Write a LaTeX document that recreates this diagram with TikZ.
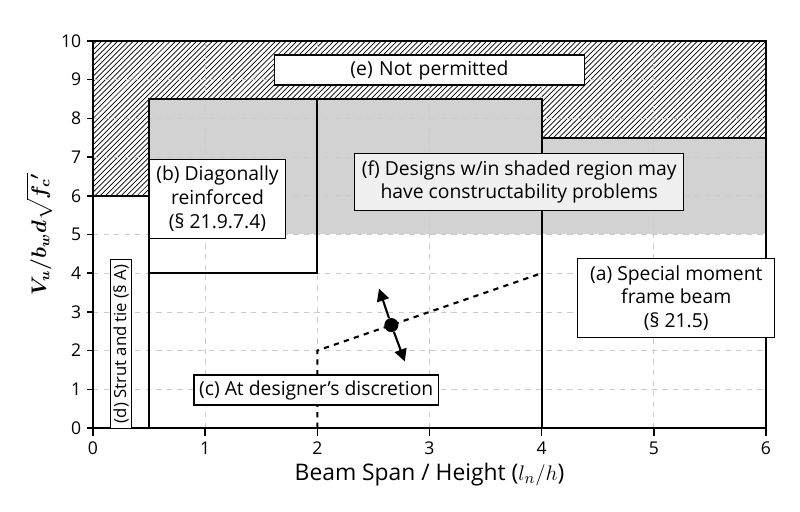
\documentclass[tikz,border=0pt]{standalone}
\usepackage{amsmath,bm}
\usepackage{fontspec}
\setmainfont{Open Sans}
\usetikzlibrary{patterns,arrows.meta}
\begin{document}
\begin{tikzpicture}[x=2.2434cm,y=0.774cm,
  lbl/.style={draw,thick,fill=white,align=center,font=\fontsize{11}{13.5}\selectfont,inner sep=4pt},
  zone/.style={draw,line width=1.2pt}]
\useasboundingbox (-0.8291,-2.1705) rectangle (6.3031,11.0594);

% Shaded and hatched regions
\fill[gray!35] (0.5,5) rectangle (4,8.5);
\fill[gray!35] (4,5) rectangle (6,7.5);
\fill[pattern=north east lines,pattern color=black] (0,6) -- (0.5,6) -- (0.5,8.5) -- (4,8.5) -- (4,7.5) -- (6,7.5) -- (6,10) -- (0,10) -- cycle;
\fill[white] (0,0) rectangle (0.5,6);

% Grid
\foreach \x in {1,...,5} \draw[gray!40,dashed] (\x,0) -- (\x,10);
\foreach \y in {1,...,9} \draw[gray!40,dashed] (0,\y) -- (6,\y);

% Zone borders
\draw[zone] (0,6) -- (0.5,6) -- (0.5,8.5) -- (4,8.5) -- (4,7.5) -- (6,7.5);
\draw[zone] (0,0) rectangle (0.5,6);
\draw[zone] (0.5,4) rectangle (2,8.5);
\draw[zone] (4,0) -- (4,8.5);
\draw[zone] (0,0) rectangle (6,10);

% Axes ticks and labels
\foreach \x in {0,...,6} {
  \draw[thick] (\x,0) -- (\x,-0.2);
  \node[font=\fontsize{10}{12}\selectfont,below] at (\x,-0.2) {\x};
}
\foreach \y in {0,...,10} {
  \draw[thick] (0,\y) -- (-0.05,\y);
  \node[font=\fontsize{10}{12}\selectfont,left] at (-0.05,\y) {\y};
}
\node[font=\fontsize{13}{15}\selectfont] (xlab) at (3,-1.2) {Beam Span / Height ($l_n/h$)};
\node[rotate=90,font=\fontsize{12}{14}\selectfont] (ylab) at (-0.48,5) {$\bm{V_u/b_w d\sqrt{f_c{}'}}$};

% Boundary between (a) and (c)
\coordinate (c0) at (2,0);
\coordinate (c1) at (2,2);
\coordinate (c2) at (4,4);
\draw[very thick,dashed] (c0) -- (c1) -- (c2);
\node[circle,fill,inner sep=0pt,minimum size=8pt] (pt) at (2.66,2.66) {};
\coordinate (up) at (2.55,3.6);
\coordinate (dn) at (2.78,1.72);
\draw[very thick,-{Triangle[length=7pt,width=7pt]}] (pt) -- (up);
\draw[very thick,-{Triangle[length=7pt,width=7pt]}] (pt) -- (dn);

% Labels
\node[lbl,text width=6cm,minimum height=0.6cm,inner sep=3pt] (e) at (3.0,9.25) {(e) Not permitted};
\node[lbl] (b) at (1.11,5.92) {(b) Diagonally\\reinforced\\(§ 21.9.7.4)};
\node[lbl,fill=gray!12] (f) at (3.8,6.36) {(f) Designs w/in shaded region may\\have constructability problems};
\node[lbl,inner xsep=7pt] (a) at (5.2,3.36) {(a) Special moment\\frame beam\\(§ 21.5)};
\node[lbl,inner sep=3pt] (c) at (1.99,0.98) {(c) At designer’s discretion};
\node[lbl,rotate=90,inner xsep=3pt,inner ysep=1.5pt,font=\fontsize{9.5}{11}\selectfont] (d) at (0.25,2.17) {(d) Strut and tie (§ A)};
\end{tikzpicture}
\end{document}
